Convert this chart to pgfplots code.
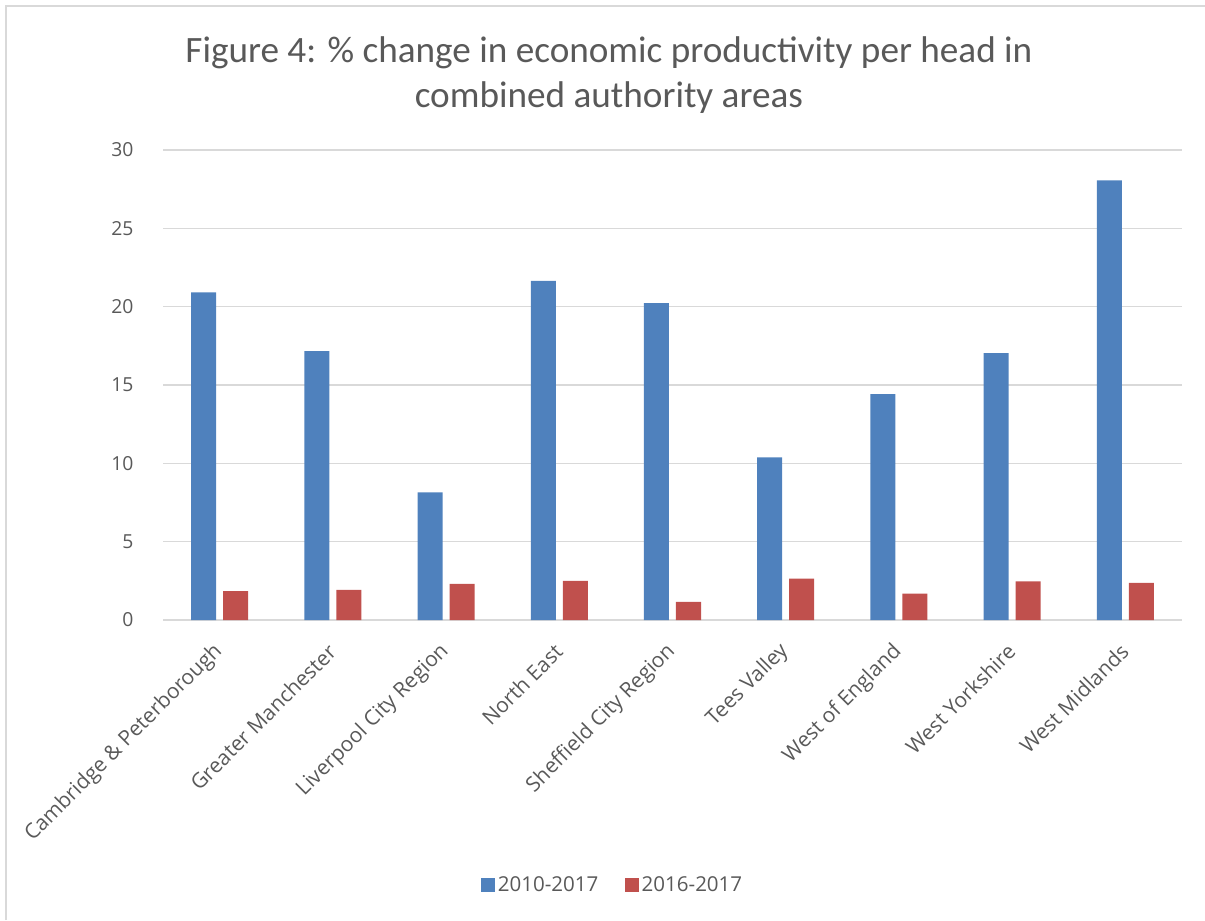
\documentclass[border=0pt]{standalone}
\usepackage{pgfplots}
\pgfplotsset{compat=1.18}
\usepackage{fontspec}
\setmainfont{Open Sans}
\newfontfamily\titlefont{Carlito}
\definecolor{cblue}{HTML}{4F81BD}
\definecolor{cred}{HTML}{C0504D}
\definecolor{cgrid}{HTML}{D9D9D9}
\definecolor{ctext}{HTML}{595959}
\begin{document}
\begin{tikzpicture}
\path[use as bounding box] (0,0) rectangle (903.75pt,690pt);
\draw[cgrid, line width=1.5pt] (4.5pt,0) -- (4.5pt,685.5pt) -- (903.75pt,685.5pt);
\begin{axis}[
  at={(122.25pt,225pt)}, anchor=south west,
  scale only axis,
  width=764.25pt, height=352.5pt,
  ybar=5.25pt, bar width=18.75pt,
  xmin=-0.5, xmax=8.5, ymin=0, ymax=30,
  xtick={0,...,8},
  xticklabels={Cambridge \& Peterborough, Greater Manchester, Liverpool City Region, North East, Sheffield City Region, Tees Valley, West of England, West Yorkshire, West Midlands},
  ytick={0,5,...,30},
  ymajorgrids,
  grid style={cgrid, line width=1.1pt},
  axis line style={draw=none},
  major tick length=0pt,
  tick style={draw=none},
  /pgf/number format/assume math mode=true,
  ticklabel style={font=\fontsize{14.5}{17}\selectfont, text=ctext},
  yticklabel style={anchor=east, inner sep=0pt, xshift=-22pt},
  xticklabel style={rotate=45, anchor=east, inner sep=0pt, xshift=-15.1pt, yshift=-14.5pt, font=\fontsize{15.7}{18}\selectfont},
  title={Figure 4: \% change in economic productivity per head in\\combined authority areas},
  title style={at={(0.4376,1.143)}, anchor=center, align=center, font=\titlefont\fontsize{27.9}{33.75}\selectfont, text=ctext},
  legend style={at={(0.4416,-0.5638)}, anchor=center, draw=none, legend columns=2, font=\fontsize{15.4}{18}\selectfont, text=ctext, /tikz/every even column/.append style={column sep=18pt}},
  legend image code/.code={\fill[#1] (0pt,-5.25pt) rectangle (10.5pt,5.25pt);},
]
\addplot[fill=cblue, draw=none] coordinates {(0,20.92) (1,17.16) (2,8.14) (3,21.64) (4,20.23) (5,10.38) (6,14.41) (7,17.04) (8,28.06)};
\addplot[fill=cred, draw=none] coordinates {(0,1.85) (1,1.92) (2,2.30) (3,2.49) (4,1.15) (5,2.64) (6,1.68) (7,2.47) (8,2.37)};
\legend{2010-2017, 2016-2017}
\end{axis}
\end{tikzpicture}
\end{document}
